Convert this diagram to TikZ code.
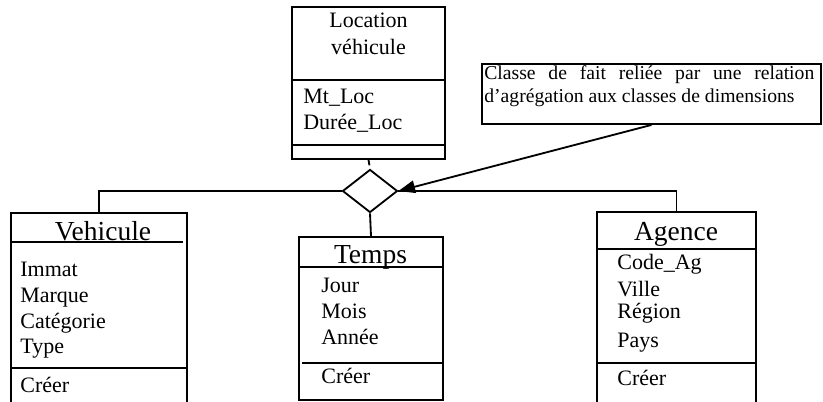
\documentclass[tikz,border=0pt]{standalone}
\usepackage{fontspec}
\setmainfont{Liberation Serif}
\usetikzlibrary{positioning, fit, shapes.geometric, arrows.meta}
\tikzset{>={Triangle[length=10pt, width=7.5pt]},
  box/.style={draw, line width=1.1pt, inner sep=0pt, fit={#1}},
  losange/.style={diamond, draw, line width=1.1pt, inner sep=0pt,
    minimum width=33pt, minimum height=25.8pt},
  titre/.style={font=\fontsize{16.5}{19}\selectfont, anchor=base, inner sep=0pt},
  attr/.style={font=\fontsize{13.2}{15}\selectfont, anchor=base west, inner sep=0pt},
  notetxt/.style={font=\fontsize{11.8}{13.2}\selectfont, anchor=base west,
    inner sep=0pt, text width=198pt, align=justify},
  lien/.style={line width=1.1pt}}

\begin{document}
\begin{tikzpicture}[x=0.6pt, y=-0.6pt]
    \useasboundingbox (0,0) rectangle (823,402);
    \clip (0,0) rectangle (823,402);

    % classe de fait
    \node[box={(292,7) (445,159)}] (loc) {};
    \draw[lien] (292,80) -- (445,80) (292,145) -- (445,145);
    \node[attr, anchor=base] (locnom) at (368.5,28) {Location};
    \node[attr, anchor=base] (locveh) at (368.5,55) {véhicule};
    \node[attr] (mtloc) at (303,104) {Mt\_Loc};
    \node[attr] (dureeloc) at (303,130) {Durée\_Loc};

    \node[losange] (agg) at (370,191) {};

    % dimensions
    \node[box={(11,213) (187,420)}] (veh) {};
    \draw[lien] (11,242) -- (183,242) (11,368) -- (187,368);
    \node[titre] (vehnom) at (103,240) {Vehicule};
    \node[attr] (immat) at (20,276) {Immat};
    \node[attr] (marque) at (20,302) {Marque};
    \node[attr] (categ) at (20,328) {Catégorie};
    \node[attr] (type) at (20,353) {Type};
    \node[attr] (vehcreer) at (20,392) {Créer};

    \node[box={(299,237) (443,400)}] (temps) {};
    \draw[lien] (299,267) -- (443,267) (302,363) -- (443,363);
    \node[titre] (tempsnom) at (370.5,263) {Temps};
    \node[attr] (jour) at (321,292) {Jour};
    \node[attr] (mois) at (321,318) {Mois};
    \node[attr] (annee) at (321,344) {Année};
    \node[attr] (tempscreer) at (321,383) {Créer};

    \node[box={(597,212) (756,420)}] (ag) {};
    \draw[lien] (597,249) -- (756,249) (597,363) -- (756,363);
    \node[titre] (agnom) at (676,240) {Agence};
    \node[attr] (codeag) at (617,269) {Code\_Ag};
    \node[attr] (ville) at (617,296) {Ville};
    \node[attr] (region) at (617,318) {Région};
    \node[attr] (pays) at (617,347) {Pays};
    \node[attr] (agcreer) at (617,385) {Créer};

    % note
    \node[box={(482,64) (821,124)}] (note) {};
    \node[notetxt] (notetexte) at (484,80)
        {Classe de fait reliée par une relation d’agrégation aux classes de dimensions};

    \draw[lien, shorten >=2pt] (loc.south) -- (agg.north);
    \draw[lien] (agg.west) -| (veh);
    \draw[lien] (agg.east) -| (ag);
    \draw[lien] (agg.south) -- (temps.north);
    \draw[lien, ->] (note.south) -- (agg.east);
\end{tikzpicture}
\end{document}
